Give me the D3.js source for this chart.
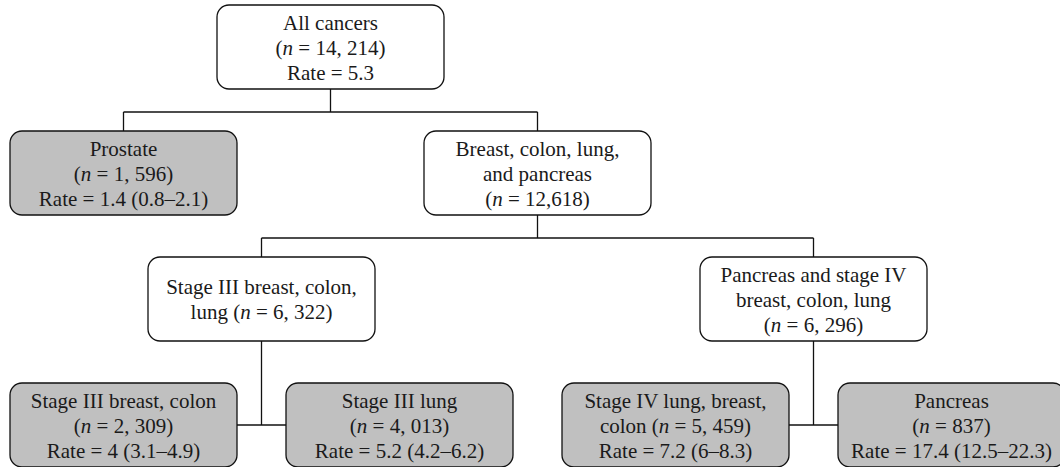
<!DOCTYPE html>
<html>
<head>
<meta charset="utf-8">
<script src="https://cdn.jsdelivr.net/npm/d3@7"></script>
<style>
    body { margin: 0; background: #fff; }
    svg { display: block; }
</style>
</head>
<body>
<div id="chart"></div>
<script>
// tree nodes
const nodeIds = ['all', 'prostate', 'bclp', 'stage3', 'panc4', 'stage3bc', 'stage3lung', 'stage4lbc', 'pancreas'];
const nodeParents = ['', 'all', 'all', 'bclp', 'bclp', 'stage3', 'stage3', 'panc4', 'panc4'];
const nodeLines = [
    ['All cancers', '(n = 14, 214)', 'Rate = 5.3'],
    ['Prostate', '(n = 1, 596)', 'Rate = 1.4 (0.8–2.1)'],
    ['Breast, colon, lung,', 'and pancreas', '(n = 12,618)'],
    ['Stage III breast, colon,', 'lung (n = 6, 322)'],
    ['Pancreas and stage IV', 'breast, colon, lung', '(n = 6, 296)'],
    ['Stage III breast, colon', '(n = 2, 309)', 'Rate = 4 (3.1–4.9)'],
    ['Stage III lung', '(n = 4, 013)', 'Rate = 5.2 (4.2–6.2)'],
    ['Stage IV lung, breast,', 'colon (n = 5, 459)', 'Rate = 7.2 (6–8.3)'],
    ['Pancreas', '(n = 837)', 'Rate = 17.4 (12.5–22.3)']
];

const width = 1060,
    height = 467;
const margin = { top: 5, left: 10 };
const boxW = 227,
    boxH = 84,
    radius = 12,
    leafStep = 276,
    levelStep = 126,
    lineH = 25,
    fontSize = 21;

const svg = d3.select('#chart')
    .append('svg')
    .attr('width', width)
    .attr('height', height);

const table = nodeIds.map((id, i) => ({ id: id, parent: nodeParents[i], lines: nodeLines[i] }));

const root = d3.stratify()
    .id(d => d.id)
    .parentId(d => d.parent || null)(table);

// tidy tree, top level spread a bit wider so the lone leaf lines up with the first column
d3.tree()
    .nodeSize([1, 1])
    .separation((a, b) => a.depth === 1 ? 1.5 : 1)(root);

const nodes = root.descendants();
const maxDepth = d3.max(nodes, d => d.depth);
const [xMin, xMax] = d3.extent(nodes, d => d.x);

const x = d3.scaleLinear()
    .domain([xMin, xMax])
    .range([margin.left + boxW / 2, margin.left + boxW / 2 + leafStep * (xMax - xMin)]);

const y = d3.scaleLinear()
    .domain([0, maxDepth])
    .range([margin.top, margin.top + levelStep * maxDepth]);

// connectors
const links = svg.append('g')
    .attr('fill', 'none')
    .attr('stroke', '#111')
    .attr('stroke-width', 1.3);

nodes.filter(d => d.children).forEach(p => {
    const px = x(p.x),
        bottom = y(p.depth) + boxH;
    const kids = p.children;
    if (kids[0].depth === maxDepth) {
        // bottom row: join the leaves at their sides
        const cy = y(kids[0].depth) + boxH / 2;
        links.append('path').attr('d', `M${px},${bottom}V${cy}`);
        links.append('path')
            .attr('d', `M${x(kids[0].x) + boxW / 2},${cy}H${x(kids[kids.length - 1].x) - boxW / 2}`);
    } else {
        const midY = bottom + (y(kids[0].depth) - bottom) / 2 + 2;
        links.append('path').attr('d', `M${px},${bottom}V${midY}`);
        links.append('path')
            .attr('d', `M${x(kids[0].x)},${midY}H${x(kids[kids.length - 1].x)}`);
        kids.forEach(c => {
            links.append('path').attr('d', `M${x(c.x)},${midY}V${y(c.depth)}`);
        });
    }
});

// boxes
const node = svg.selectAll('g.node')
    .data(nodes)
    .enter()
    .append('g')
    .attr('class', 'node')
    .attr('transform', d => `translate(${x(d.x)},${y(d.depth)})`);

node.append('rect')
    .attr('x', -boxW / 2)
    .attr('y', 0)
    .attr('width', boxW)
    .attr('height', boxH)
    .attr('rx', radius)
    .attr('ry', radius)
    .attr('fill', d => d.children ? '#ffffff' : '#c0c0c0')
    .attr('stroke', '#111')
    .attr('stroke-width', 1.3);

const text = node.append('text')
    .attr('text-anchor', 'middle')
    .attr('font-family', '"Liberation Serif", "DejaVu Serif", serif')
    .attr('font-size', fontSize)
    .attr('fill', '#1a1a1a');

text.each(function (d) {
    const lines = d.data.lines;
    const first = boxH / 2 + 1 - (lines.length - 1) * lineH / 2 + fontSize * 0.33;
    lines.forEach((line, i) => {
        const t = d3.select(this).append('tspan')
            .attr('x', 0)
            .attr('y', first + i * lineH);
        // italic n for the sample size
        line.split(/(\bn\b)/).forEach(part => {
            if (!part) return;
            const s = t.append('tspan').text(part);
            if (part === 'n') s.attr('font-style', 'italic');
        });
    });
});
</script>
</body>
</html>
